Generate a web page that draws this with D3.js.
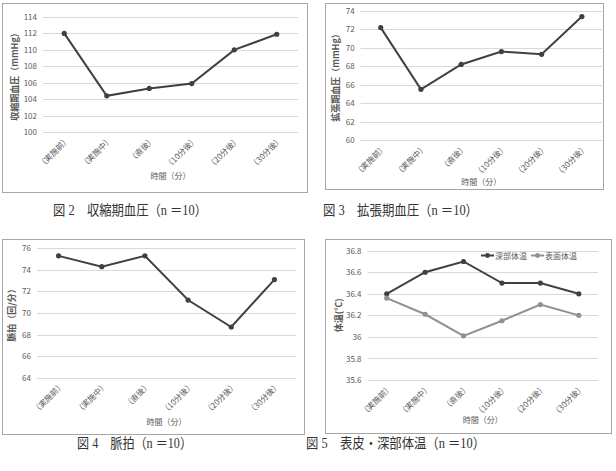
<!DOCTYPE html>
<html>
<head>
<meta charset="utf-8">
<script src="https://cdn.jsdelivr.net/npm/d3@7"></script>
<style>
  body { margin: 0; background: #fff; }
  svg text { font-family: "Noto Sans CJK JP", "Noto Sans", sans-serif; }
  svg text.cap { font-family: "Liberation Serif", "Noto Sans CJK JP", serif; }
</style>
</head>
<body>
<svg id="fig" width="616" height="471"></svg>
<script>
var categories = ["（実施前）", "（実施中）", "（直後）", "（10分後）", "（20分後）", "（30分後）"];
var systolic = [112.0, 104.4, 105.3, 105.9, 110.0, 111.9];
var diastolic = [72.2, 65.5, 68.2, 69.6, 69.3, 73.4];
var pulse = [75.3, 74.3, 75.3, 71.2, 68.7, 73.1];
var deepTemp = [36.4, 36.6, 36.7, 36.5, 36.5, 36.4];
var surfaceTemp = [36.36, 36.21, 36.01, 36.15, 36.30, 36.20];
var sysTicks = [100, 102, 104, 106, 108, 110, 112, 114];
var diaTicks = [60, 62, 64, 66, 68, 70, 72, 74];
var pulseTicks = [64, 66, 68, 70, 72, 74, 76];
var tempTicks = [35.6, 35.8, 36, 36.2, 36.4, 36.6, 36.8];
var seriesNames = ["深部体温", "表面体温"];

var svg = d3.select("#fig");

function chart(c) {
  var g = svg.append("g");
  // outer frame
  g.append("rect")
    .attr("x", c.box[0] + 0.5).attr("y", c.box[1] + 0.5)
    .attr("width", c.box[2] - c.box[0]).attr("height", c.box[3] - c.box[1])
    .attr("fill", "#fff").attr("stroke", "#a6a6a6").attr("stroke-width", 1);

  var x = d3.scaleBand().domain(categories).range([c.plot[0], c.plot[2]]);
  var y = d3.scaleLinear().domain([c.ticks[0], c.ticks[c.ticks.length - 1]]).range([c.plot[3], c.plot[1]]);

  // gridlines
  g.selectAll(".grid").data(c.ticks).enter().append("line")
    .attr("x1", c.plot[0]).attr("x2", c.plot[2])
    .attr("y1", d => Math.round(y(d)) + 0.5).attr("y2", d => Math.round(y(d)) + 0.5)
    .attr("stroke", "#d9d9d9").attr("stroke-width", 1);

  var yaxis = d3.axisLeft(y).tickValues(c.ticks).tickSize(0).tickPadding(6)
    .tickFormat(d => String(+d.toFixed(1)));
  var ya = g.append("g").attr("transform", "translate(" + c.plot[0] + ",0)").call(yaxis);
  ya.select(".domain").remove();
  ya.selectAll("text").attr("fill", "#595959").style("font-size", "8px");

  var xaxis = d3.axisBottom(x).tickSize(0).tickPadding(0);
  var xa = g.append("g").attr("transform", "translate(0," + c.plot[3] + ")").call(xaxis);
  xa.select(".domain").remove();
  xa.selectAll("text")
    .attr("fill", "#595959").style("font-size", "8px")
    .attr("text-anchor", "end").attr("dy", null).attr("y", 0)
    .attr("transform", "translate(6,8) rotate(-45)");

  // axis titles
  g.append("text")
    .attr("x", (c.plot[0] + c.plot[2]) / 2).attr("y", c.xTitleY)
    .attr("text-anchor", "middle").attr("fill", "#595959").style("font-size", "8px")
    .text("時間（分）");
  g.append("text")
    .attr("transform", "translate(" + c.yTitleX + "," + (c.plot[1] + c.plot[3]) / 2 + ") rotate(-90)")
    .attr("text-anchor", "middle").attr("fill", "#595959").style("font-size", "9px")
    .style("font-weight", "bold")
    .text(c.yTitle);

  c.series.forEach(function (s) {
    var line = d3.line().x((d, i) => x(categories[i]) + x.bandwidth() / 2).y(d => y(d));
    g.append("path").datum(s.values)
      .attr("fill", "none").attr("stroke", s.color).attr("stroke-width", 2)
      .attr("d", line);
    g.selectAll(null).data(s.values).enter().append("circle")
      .attr("cx", (d, i) => x(categories[i]) + x.bandwidth() / 2)
      .attr("cy", d => y(d)).attr("r", 2.6).attr("fill", s.color);
  });

  if (c.legend) {
    c.series.forEach(function (s, i) {
      var lx = c.legend[0] + i * 50, ly = c.legend[1];
      g.append("line").attr("x1", lx).attr("x2", lx + 13).attr("y1", ly).attr("y2", ly)
        .attr("stroke", s.color).attr("stroke-width", 2);
      g.append("circle").attr("cx", lx + 6.5).attr("cy", ly).attr("r", 2.4).attr("fill", s.color);
      g.append("text").attr("x", lx + 14).attr("y", ly + 3)
        .attr("fill", "#595959").style("font-size", "8px").text(s.name);
    });
  }

  svg.append("text").attr("class", "cap")
    .attr("x", c.caption[0]).attr("y", c.caption[1])
    .attr("fill", "#333").style("font-size", "14px")
    .attr("textLength", c.caption[2]).attr("lengthAdjust", "spacingAndGlyphs")
    .text(c.captionText);
}

chart({
  box: [2, 3, 307, 192], plot: [43, 17, 298, 132], ticks: sysTicks,
  yTitle: "収縮期血圧（mmHg）", yTitleX: 18, xTitleY: 179,
  series: [{ values: systolic, color: "#404040" }],
  caption: [53, 215, 154], captionText: "図 2　収縮期血圧（n ＝10）"
});
chart({
  box: [325, 3, 603, 189], plot: [360.6, 11, 602, 140], ticks: diaTicks,
  yTitle: "拡張期血圧（mmHg）", yTitleX: 339, xTitleY: 185,
  series: [{ values: diastolic, color: "#404040" }],
  caption: [323, 215, 155], captionText: "図 3　拡張期血圧（n ＝10）"
});
chart({
  box: [2, 239, 304, 434], plot: [37, 248.3, 296, 377.7], ticks: pulseTicks,
  yTitle: "脈拍（回/分）", yTitleX: 15, xTitleY: 425,
  series: [{ values: pulse, color: "#404040" }],
  caption: [77, 448, 115], captionText: "図 4　脈拍（n ＝10）"
});
chart({
  box: [325, 239, 611, 433], plot: [367.5, 250.7, 598, 380], ticks: tempTicks,
  yTitle: "体温(℃)", yTitleX: 342, xTitleY: 423,
  series: [
    { values: deepTemp, color: "#404040", name: seriesNames[0] },
    { values: surfaceTemp, color: "#919191", name: seriesNames[1] }
  ],
  legend: [481, 255.5],
  caption: [306, 448, 179], captionText: "図 5　表皮・深部体温（n ＝10）"
});
</script>
</body>
</html>
